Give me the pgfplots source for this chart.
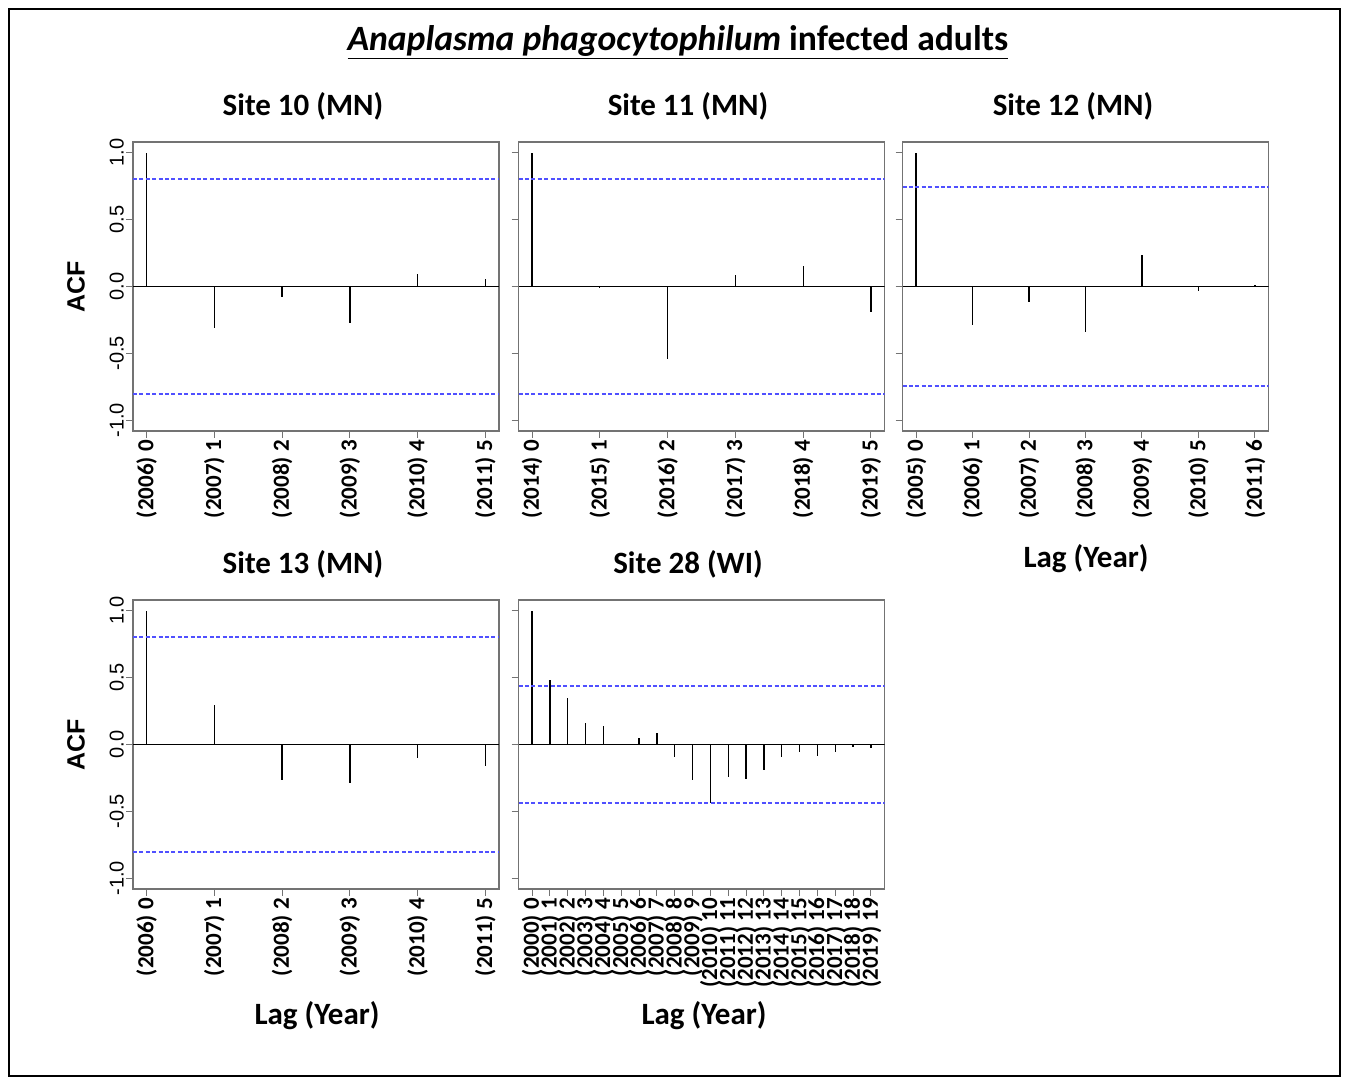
\documentclass[border=0pt]{standalone}
\usepackage{fontspec}
\setmainfont{Carlito}
\newfontfamily\arialf{Liberation Sans}
\usepackage{pgfplots}
\pgfplotsset{compat=1.18}
\definecolor{ciblue}{RGB}{80,80,255}

\pgfplotsset{
  acfpanel/.style={
    scale only axis, width=183pt, height=144.5pt,
    anchor=north west,
    ymin=-1.08, ymax=1.08,
    ytick={-1,-0.5,0,0.5,1},
    yticklabels={-1.0,-0.5,0.0,0.5,1.0},
    tick align=outside, xtick pos=bottom, ytick pos=left,
    major tick length=3.4pt,
    tick style={black!55, line width=0.5pt},
    axis line style={black!55, line width=0.6pt},
    yticklabel style={font=\arialf\fontsize{10}{10}\selectfont, rotate=90, anchor=south, inner sep=1pt},
    xticklabel style={font=\bfseries\fontsize{11.5}{11.5}\selectfont, rotate=90, anchor=east, inner sep=1pt},
  },
}
\tikzset{
  spike/.style={ycomb, black, line width=0.65pt},
  zero/.style={black, line width=0.65pt},
  cilines/.style={color=ciblue, line width=1pt, dash pattern=on 2pt off 1.2pt},
}

\begin{document}
\begin{tikzpicture}
\useasboundingbox (0,0) rectangle (674.5pt,-539pt);
\draw[line width=1pt] (4.5pt,-4.5pt) rectangle (670pt,-538pt);

% titles
\node[anchor=base, font=\bfseries\fontsize{17.8}{17.8}\selectfont] at (339pt,-25pt)
  {\underline{\textit{Anaplasma phagocytophilum} infected adults}};
\begin{scope}[every node/.style={anchor=base, font=\bfseries\fontsize{15.5}{15.5}\selectfont}]
\node at (151.5pt,-57.5pt) {Site 10 (MN)};
\node at (344pt,-57.5pt) {Site 11 (MN)};
\node at (536.5pt,-57.5pt) {Site 12 (MN)};
\node at (151.5pt,-286.5pt) {Site 13 (MN)};
\node at (344pt,-286.5pt) {Site 28 (WI)};
\node at (543pt,-283.5pt) {Lag (Year)};
\node at (158.5pt,-512pt) {Lag (Year)};
\node at (352pt,-512pt) {Lag (Year)};
\end{scope}
\node[rotate=90, font=\arialf\bfseries\fontsize{12.5}{12.5}\selectfont] at (38pt,-143.5pt) {ACF};
\node[rotate=90, font=\arialf\bfseries\fontsize{12.5}{12.5}\selectfont] at (38pt,-372.5pt) {ACF};

% Site 10
\begin{axis}[acfpanel, at={(66.5pt,-71pt)}, xmin=-0.2, xmax=5.2,
  xtick={0,...,5}, xticklabels={(2006) 0,(2007) 1,(2008) 2,(2009) 3,(2010) 4,(2011) 5}]
\addplot[zero, mark=none] coordinates {(-0.2,0)(5.2,0)};
\addplot[spike, mark=none] coordinates {(0,1)(1,-0.307)(2,-0.075)(3,-0.276)(4,0.090)(5,0.058)};
\addplot[cilines, mark=none] coordinates {(-0.2,0.800)(5.2,0.800)};
\addplot[cilines, mark=none] coordinates {(-0.2,-0.800)(5.2,-0.800)};
\end{axis}

% Site 11
\begin{axis}[acfpanel, at={(259.25pt,-71pt)}, xmin=-0.2, xmax=5.2, yticklabels={},
  xtick={0,...,5}, xticklabels={(2014) 0,(2015) 1,(2016) 2,(2017) 3,(2018) 4,(2019) 5}]
\addplot[zero, mark=none] coordinates {(-0.2,0)(5.2,0)};
\addplot[spike, mark=none] coordinates {(0,1)(1,-0.010)(2,-0.540)(3,0.088)(4,0.153)(5,-0.193)};
\addplot[cilines, mark=none] coordinates {(-0.2,0.800)(5.2,0.800)};
\addplot[cilines, mark=none] coordinates {(-0.2,-0.800)(5.2,-0.800)};
\end{axis}

% Site 12
\begin{axis}[acfpanel, at={(451.25pt,-71pt)}, xmin=-0.24, xmax=6.24, yticklabels={},
  xtick={0,...,6}, xticklabels={(2005) 0,(2006) 1,(2007) 2,(2008) 3,(2009) 4,(2010) 5,(2011) 6}]
\addplot[zero, mark=none] coordinates {(-0.24,0)(6.24,0)};
\addplot[spike, mark=none] coordinates {(0,1)(1,-0.290)(2,-0.118)(3,-0.339)(4,0.239)(5,-0.030)(6,0.013)};
\addplot[cilines, mark=none] coordinates {(-0.24,0.741)(6.24,0.741)};
\addplot[cilines, mark=none] coordinates {(-0.24,-0.741)(6.24,-0.741)};
\end{axis}

% Site 13
\begin{axis}[acfpanel, at={(66.5pt,-300pt)}, xmin=-0.2, xmax=5.2,
  xtick={0,...,5}, xticklabels={(2006) 0,(2007) 1,(2008) 2,(2009) 3,(2010) 4,(2011) 5}]
\addplot[zero, mark=none] coordinates {(-0.2,0)(5.2,0)};
\addplot[spike, mark=none] coordinates {(0,1)(1,0.293)(2,-0.265)(3,-0.290)(4,-0.100)(5,-0.158)};
\addplot[cilines, mark=none] coordinates {(-0.2,0.800)(5.2,0.800)};
\addplot[cilines, mark=none] coordinates {(-0.2,-0.800)(5.2,-0.800)};
\end{axis}

% Site 28
\begin{axis}[acfpanel, at={(259.25pt,-300pt)}, xmin=-0.76, xmax=19.76, yticklabels={},
  xtick={0,...,19}, xticklabels={(2000) 0,(2001) 1,(2002) 2,(2003) 3,(2004) 4,(2005) 5,(2006) 6,(2007) 7,(2008) 8,(2009) 9,(2010) 10,(2011) 11,(2012) 12,(2013) 13,(2014) 14,(2015) 15,(2016) 16,(2017) 17,(2018) 18,(2019) 19}]
\addplot[zero, mark=none] coordinates {(-0.76,0)(19.76,0)};
\addplot[spike, mark=none] coordinates {(0,1)(1,0.481)(2,0.346)(3,0.160)(4,0.135)(5,0.004)(6,0.045)(7,0.083)(8,-0.095)(9,-0.266)(10,-0.436)(11,-0.246)(12,-0.256)(13,-0.190)(14,-0.095)(15,-0.053)(16,-0.088)(17,-0.058)(18,-0.020)(19,-0.023)};
\addplot[cilines, mark=none] coordinates {(-0.76,0.438)(19.76,0.438)};
\addplot[cilines, mark=none] coordinates {(-0.76,-0.438)(19.76,-0.438)};
\end{axis}
\end{tikzpicture}
\end{document}
